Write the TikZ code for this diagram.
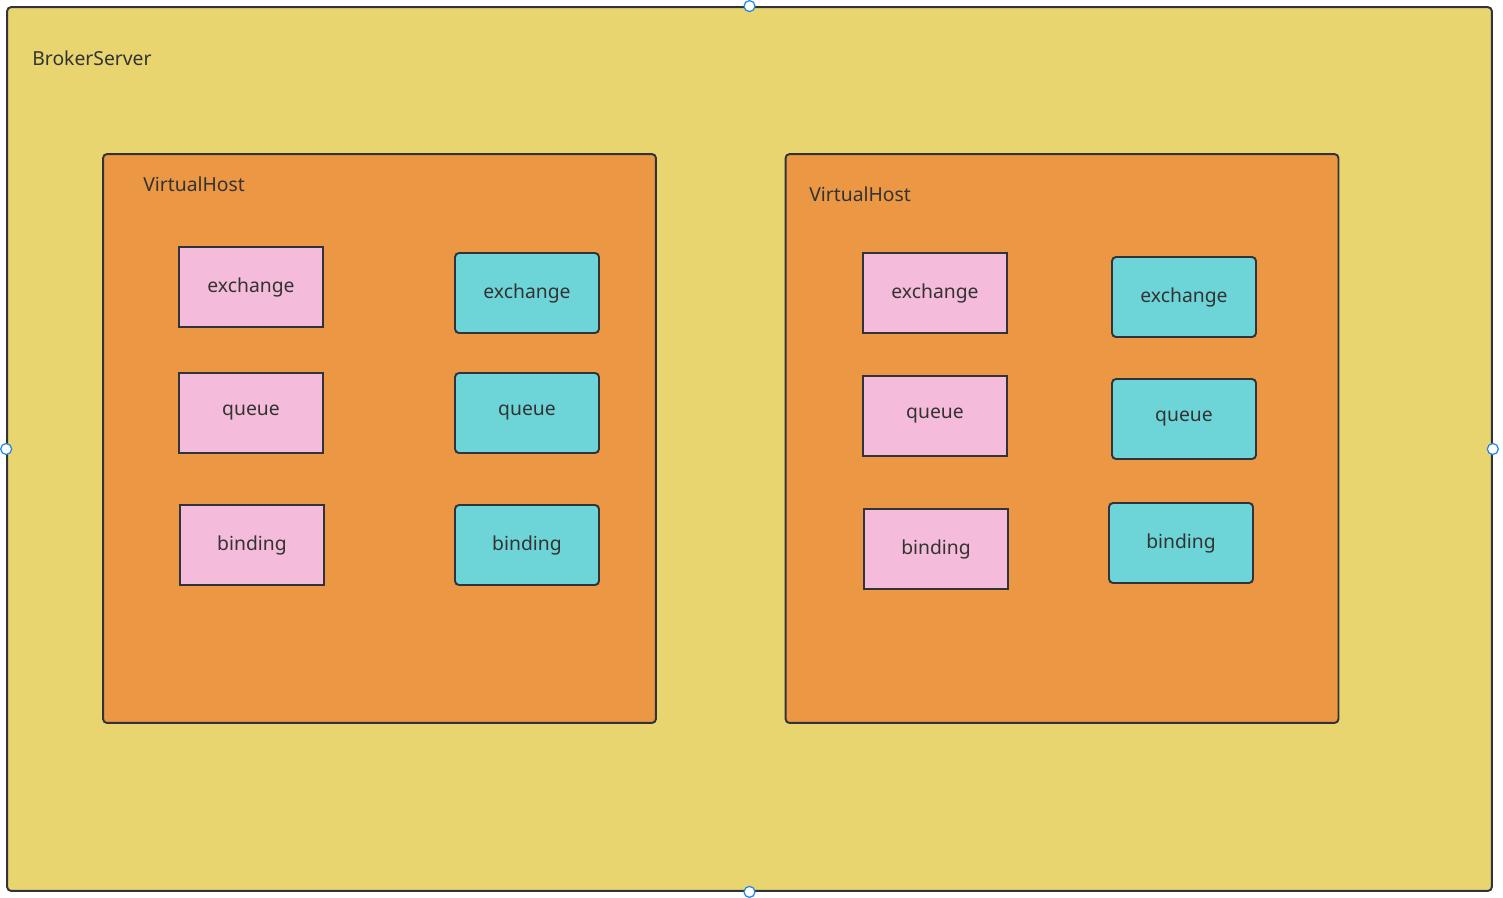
\documentclass[tikz,border=0pt]{standalone}
\usepackage{fontspec}
\setmainfont{Noto Sans}
\usepackage{xcolor}

\definecolor{servidor}{HTML}{E8D56F}
\definecolor{vhost}{HTML}{EC9744}
\definecolor{rosa}{HTML}{F5BBDA}
\definecolor{turquesa}{HTML}{6DD5D7}
\definecolor{borde}{HTML}{30343A}
\definecolor{texto}{HTML}{333333}
\definecolor{asa}{HTML}{1E88E5}

\begin{document}
\begin{tikzpicture}[x=0.02cm, y=-0.02cm,
			 broker/.style={draw=borde, fill=servidor, line width=1.1pt, rounded corners=0.08cm, minimum width=29.7cm, minimum height=17.68cm, inner sep=0pt},
			 host/.style={draw=borde, fill=vhost, line width=1.1pt, rounded corners=0.08cm, minimum width=11.06cm, minimum height=11.38cm, inner sep=0pt},
			 caja/.style={draw=borde, line width=1.1pt, minimum width=2.88cm, minimum height=1.6cm, inner sep=0pt, text=texto, font=\fontsize{11}{13}\selectfont},
			 rosada/.style={caja, fill=rosa},
			 azul/.style={caja, fill=turquesa, rounded corners=0.08cm},
			 titulo/.style={anchor=west, inner sep=0pt, text=texto, font=\fontsize{11}{13}\selectfont},
			 asa/.style={circle, draw=asa, fill=white, line width=0.7pt, minimum size=0.22cm, inner sep=0pt}
  		]
	\useasboundingbox[fill=white] (0,0) rectangle (1503,897);

	%El servidor
		\node[broker] (bs) at (749.5,449) {};
		\node[titulo] (tbs) at (32,58) {BrokerServer};

	%Los dos hosts virtuales
		\node[host] (vh1) at (379.5,438.5) {};
		\node[host] (vh2) at (1062,438.5) {};
		\node[titulo] (tvh1) at (143,184) {VirtualHost};
		\node[titulo] (tvh2) at (809,194) {VirtualHost};

	%Primer host
		\node[rosada] (e1) at (251,287) {exchange};
		\node[rosada] (q1) at (251,413) {queue};
		\node[rosada] (b1) at (252,545) {binding};
		\node[azul] (e2) at (527,293) {exchange};
		\node[azul] (q2) at (527,413) {queue};
		\node[azul] (b2) at (527,545) {binding};

	%Segundo host
		\node[rosada] (e3) at (935,293) {exchange};
		\node[rosada] (q3) at (935,416) {queue};
		\node[rosada] (b3) at (936,549) {binding};
		\node[azul] (e4) at (1184,297) {exchange};
		\node[azul] (q4) at (1184,419) {queue};
		\node[azul] (b4) at (1181,543) {binding};

	%Asas de seleccion
		\node[asa] (an) at (bs.north) {};
		\node[asa] (as) at (bs.south) {};
		\node[asa] (aw) at (bs.west) {};
		\node[asa] (ae) at (bs.east) {};
	\end{tikzpicture}
\end{document}
